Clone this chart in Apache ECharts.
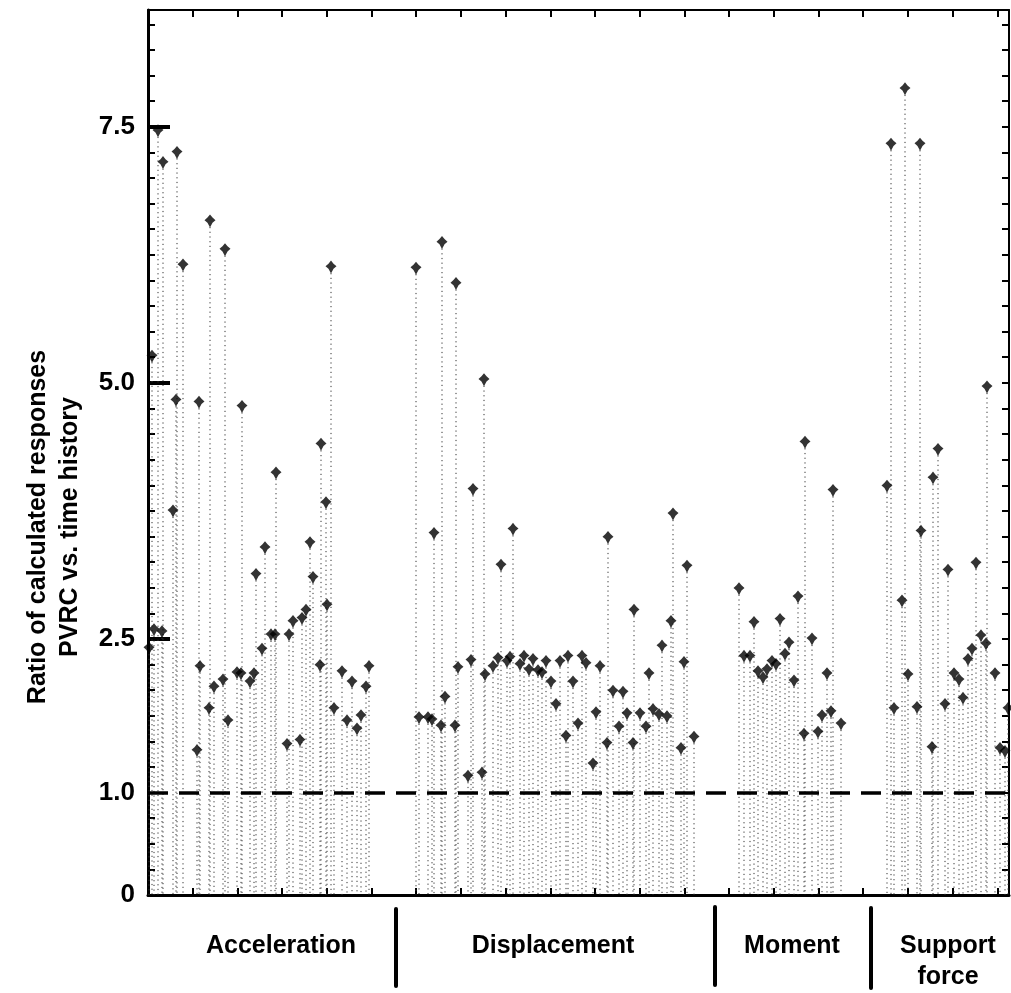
<!DOCTYPE html>
<html>
<head>
<meta charset="utf-8">
<title>Ratio of calculated responses</title>
<script src="https://cdn.jsdelivr.net/npm/echarts@6/dist/echarts.min.js"></script>
<style>
  html, body { margin: 0; padding: 0; background: #fff; }
  #chart { width: 1011px; height: 993px; }
</style>
</head>
<body>
<div id="chart"></div>
<script>
// 每组响应：横向位置（任意单位）与比值
const accelPos = [0.1, 0.4, 0.6, 1.0, 1.4, 1.5, 2.5, 2.8, 2.9, 3.5, 4.9, 5.1, 5.2, 6.1, 6.2, 6.6, 7.5, 7.7, 8.0, 8.9,
  9.3, 9.4, 10.2, 10.6, 10.8, 11.4, 11.7, 12.3, 12.7, 12.8, 13.9, 14.1, 14.5, 15.2, 15.4, 15.8, 16.2, 16.5, 17.2, 17.3,
  17.8, 17.9, 18.3, 18.6, 19.4, 19.9, 20.4, 20.9, 21.3, 21.8, 22.1];
const accelRatio = [2.41, 5.26, 2.59, 7.46, 2.57, 7.15, 3.75, 4.83, 7.25, 6.15, 1.41, 4.81, 2.23, 1.82, 6.58, 2.03, 2.10, 6.30, 1.70, 2.17,
  2.16, 4.77, 2.08, 2.16, 3.13, 2.40, 3.39, 2.54, 2.54, 4.12, 1.47, 2.54, 2.67, 1.51, 2.70, 2.78, 3.44, 3.10, 2.24, 4.40,
  3.83, 2.83, 6.13, 1.82, 2.18, 1.70, 2.08, 1.62, 1.75, 2.03, 2.23];

const dispPos = [26.8, 27.1, 28.0, 28.4, 28.6, 29.3, 29.4, 29.7, 30.7, 30.8, 31.0, 32.0, 32.3, 32.5, 33.4, 33.6, 33.7,
  34.5, 35.0, 35.3, 35.9, 36.2, 36.5, 37.2, 37.6, 38.1, 38.5, 39.0, 39.4, 39.8, 40.3, 40.8, 41.2, 41.8, 42.0, 42.5,
  43.0, 43.4, 43.8, 44.5, 44.8, 45.2, 45.9, 46.0, 46.5, 47.1, 47.5, 47.9, 48.5, 48.6, 49.2, 49.8, 50.1, 50.5, 51.1,
  51.4, 51.9, 52.3, 52.5, 53.3, 53.6, 53.9, 54.6];
const dispRatio = [6.12, 1.73, 1.73, 1.71, 3.53, 1.65, 6.37, 1.93, 1.65, 5.97, 2.22, 1.16, 2.29, 3.96, 1.19, 5.03, 2.15,
  2.23, 2.31, 3.22, 2.28, 2.32, 3.57, 2.25, 2.33, 2.20, 2.30, 2.19, 2.17, 2.28, 2.08, 1.86, 2.28, 1.55, 2.33, 2.08,
  1.67, 2.33, 2.26, 1.28, 1.78, 2.23, 1.48, 3.49, 1.99, 1.64, 1.98, 1.77, 1.48, 2.78, 1.77, 1.64, 2.16, 1.81, 1.76,
  2.43, 1.74, 2.67, 3.72, 1.43, 2.27, 3.21, 1.54];

const momentPos = [59.1, 59.6, 60.2, 60.6, 61.0, 61.5, 61.9, 62.4, 62.8, 63.2, 63.7, 64.1, 64.6, 65.0, 65.6, 65.7,
  66.4, 67.0, 67.4, 67.9, 68.3, 68.5, 69.3];
const momentRatio = [2.99, 2.33, 2.33, 2.66, 2.18, 2.12, 2.20, 2.28, 2.25, 2.69, 2.35, 2.46, 2.09, 2.91, 1.57, 4.42,
  2.50, 1.59, 1.75, 2.16, 1.79, 3.95, 1.67];

const supportPos = [73.9, 74.3, 74.6, 75.4, 75.7, 76.0, 76.9, 77.2, 77.3, 78.4, 78.5, 79.0, 79.7, 80.0, 80.6, 81.1,
  81.5, 82.0, 82.4, 82.8, 83.3, 83.8, 83.9, 84.7, 85.2, 85.7, 86.0];
const supportRatio = [3.99, 7.33, 1.82, 2.87, 7.87, 2.15, 1.83, 7.33, 3.55, 1.44, 4.07, 4.35, 1.86, 3.17, 2.16, 2.10,
  1.92, 2.30, 2.40, 3.24, 2.53, 2.45, 4.96, 2.16, 1.43, 1.40, 1.82];

const yTickLabels = [0, 1.0, 2.5, 5.0, 7.5];
const yMajorTicks = [2.5, 5.0, 7.5];
const refRatio = 1.0;
const groupNames = ['Acceleration', 'Displacement', 'Moment', 'Support\nforce'];
const yTitle = 'Ratio of calculated responses\nPVRC vs. time history';

const FONT = '"Liberation Sans", Arial, Helvetica, sans-serif';
const X_MAX = 86.1;
const Y_MAX = 8.64;

function pairs(pos, vals) {
  return pos.map((x, i) => [x, vals[i]]);
}

const allPoints = [].concat(
  pairs(accelPos, accelRatio),
  pairs(dispPos, dispRatio),
  pairs(momentPos, momentRatio),
  pairs(supportPos, supportRatio)
);

// 四角星标记，下尖略长
const STAR = 'path://M0,-5 L2.3,-2.3 L5,0 L2.3,2.3 L0,6.5 L-2.3,2.3 L-5,0 L-2.3,-2.3 Z';

const chart = echarts.init(document.getElementById('chart'));

const frameX = (pos) => ({
  type: 'value',
  position: pos,
  min: 0,
  max: X_MAX,
  interval: 4.47,
  axisLine: { show: true, onZero: false, lineStyle: { color: '#000', width: pos === 'bottom' ? 3 : 2 } },
  axisTick: { show: true, inside: true, length: 7, lineStyle: { color: '#000', width: 2 } },
  axisLabel: { show: false },
  splitLine: { show: false },
});

const option = {
  animation: false,
  backgroundColor: '#fff',
  grid: { left: 148, right: 2, top: 10, bottom: 98, containLabel: false },
  xAxis: [frameX('bottom'), frameX('top')],
  yAxis: [
    {
      type: 'value',
      position: 'left',
      min: 0,
      max: Y_MAX,
      interval: 0.25,
      axisLine: { show: true, onZero: false, lineStyle: { color: '#000', width: 3 } },
      axisTick: { show: true, inside: true, length: 7, lineStyle: { color: '#000', width: 2 } },
      axisLabel: {
        show: true,
        margin: 13,
        color: '#000',
        fontSize: 26,
        fontWeight: 'bold',
        fontFamily: FONT,
        formatter: (v) => {
          const m = yTickLabels.find((t) => Math.abs(t - v) < 1e-6);
          if (m === undefined) return '';
          return m === 0 ? '0' : m.toFixed(1);
        },
      },
      splitLine: { show: false },
    },
    {
      // 长刻度 2.5 / 5.0 / 7.5
      type: 'value',
      position: 'left',
      min: 0,
      max: Y_MAX,
      interval: 2.5,
      axisLine: { show: false },
      axisTick: { show: true, inside: true, length: 22, customValues: yMajorTicks, lineStyle: { color: '#000', width: 4 } },
      axisLabel: { show: false },
      splitLine: { show: false },
    },
    {
      type: 'value',
      position: 'right',
      min: 0,
      max: Y_MAX,
      interval: 0.25,
      axisLine: { show: true, onZero: false, lineStyle: { color: '#000', width: 2 } },
      axisTick: { show: true, inside: true, length: 7, lineStyle: { color: '#000', width: 2 } },
      axisLabel: { show: false },
      splitLine: { show: false },
    },
  ],
  series: [
    {
      // 点到零线的虚线竖线
      type: 'custom',
      xAxisIndex: 0,
      yAxisIndex: 0,
      silent: true,
      z: 1,
      encode: { x: 0, y: 1 },
      data: allPoints,
      renderItem: (params, api) => {
        const top = api.coord([api.value(0), api.value(1)]);
        const base = api.coord([api.value(0), 0]);
        return {
          type: 'line',
          shape: { x1: top[0], y1: top[1] + 6, x2: base[0], y2: base[1] },
          style: { stroke: '#333', lineWidth: 1, lineDash: [1.2, 3.5] },
        };
      },
    },
    {
      type: 'scatter',
      xAxisIndex: 0,
      yAxisIndex: 0,
      z: 3,
      symbol: STAR,
      symbolSize: [11, 13],
      itemStyle: { color: '#000' },
      data: allPoints,
      markLine: {
        silent: true,
        symbol: 'none',
        label: { show: false },
        lineStyle: { color: '#000', width: 3.5, type: [20, 11] },
        data: [{ yAxis: refRatio }],
      },
    },
  ],
  graphic: [
    {
      type: 'text',
      x: 54,
      y: 527,
      rotation: Math.PI / 2,
      style: {
        text: yTitle,
        font: 'bold 25px ' + FONT,
        fill: '#000',
        align: 'center',
        verticalAlign: 'middle',
        lineHeight: 32,
      },
    },
    { type: 'line', shape: { x1: 396, y1: 909, x2: 396, y2: 986 }, style: { stroke: '#000', lineWidth: 4, lineCap: 'round' } },
    { type: 'line', shape: { x1: 715, y1: 907, x2: 715, y2: 985 }, style: { stroke: '#000', lineWidth: 4, lineCap: 'round' } },
    { type: 'line', shape: { x1: 871, y1: 908, x2: 871, y2: 988 }, style: { stroke: '#000', lineWidth: 4, lineCap: 'round' } },
    { type: 'text', x: 281, y: 946, style: { text: groupNames[0], font: 'bold 25px ' + FONT, fill: '#000', align: 'center', verticalAlign: 'middle' } },
    { type: 'text', x: 553, y: 946, style: { text: groupNames[1], font: 'bold 25px ' + FONT, fill: '#000', align: 'center', verticalAlign: 'middle' } },
    { type: 'text', x: 792, y: 946, style: { text: groupNames[2], font: 'bold 25px ' + FONT, fill: '#000', align: 'center', verticalAlign: 'middle' } },
    { type: 'text', x: 948, y: 962, style: { text: groupNames[3], font: 'bold 25px ' + FONT, fill: '#000', align: 'center', verticalAlign: 'middle', lineHeight: 31 } },
  ],
};

chart.setOption(option);
</script>
</body>
</html>
